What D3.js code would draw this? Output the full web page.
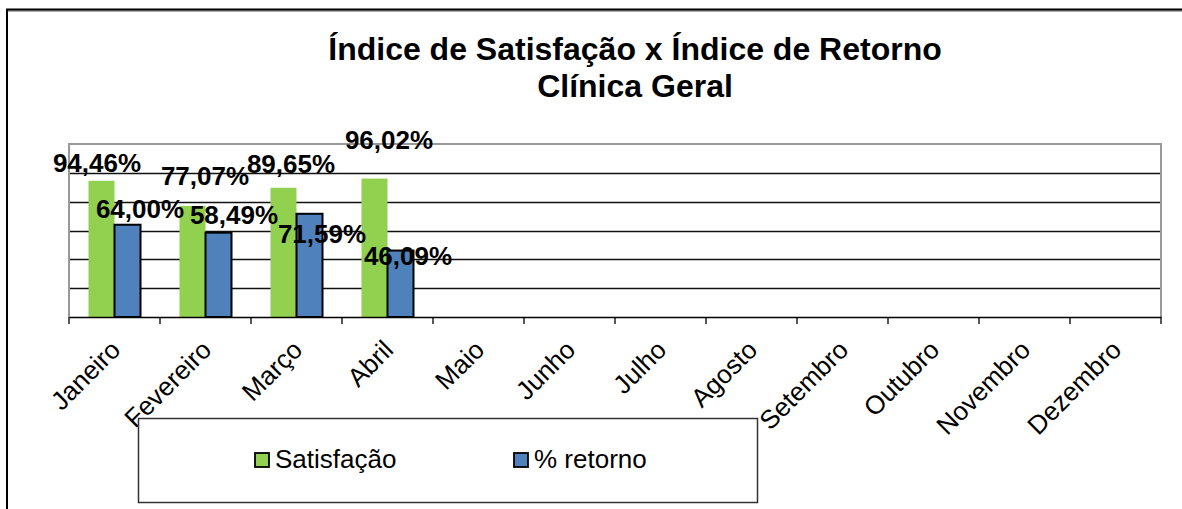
<!DOCTYPE html>
<html>
<head>
<meta charset="utf-8">
<script src="https://cdn.jsdelivr.net/npm/d3@7/dist/d3.min.js"></script>
<style>
  html, body { margin: 0; padding: 0; background: #fff; }
  svg { display: block; }
  text { font-family: "Liberation Sans", Arial, sans-serif; }
</style>
</head>
<body>
<svg id="chart" width="1182" height="509"></svg>
<script>
// ---- data ----
const months = ["Janeiro","Fevereiro","Março","Abril","Maio","Junho","Julho","Agosto","Setembro","Outubro","Novembro","Dezembro"];
const satisfacao = [94.46, 77.07, 89.65, 96.02, null, null, null, null, null, null, null, null];
const retorno = [64.00, 58.49, 71.59, 46.09, null, null, null, null, null, null, null, null];
const yTicks = [0, 20, 40, 60, 80, 100, 120];
const seriesNames = ["Satisfação", "% retorno"];
const titleLines = ["Índice de Satisfação x Índice de Retorno", "Clínica Geral"];

// label nudges (px) to mimic the original label placement
const satNudge = [[-4.5, -3], [12.5, -15], [7.5, -9], [14.5, -24]];
const retNudge = [[12.5, -1], [15.5, -3], [12.5, 35], [7.5, 20]];

const fmt = v => v.toFixed(2).replace(".", ",") + "%";

const svg = d3.select("#chart");
const W = 1182, H = 509;
const plot = { left: 69, right: 1161, top: 144, bottom: 317 };
const colors = ["#92D050", "#4F81BD"];

// outer frame
svg.append("line").attr("x1", 7).attr("x2", W).attr("y1", 11).attr("y2", 11).attr("stroke", "#aaa").attr("stroke-width", 2);
svg.append("line").attr("x1", 6).attr("x2", W).attr("y1", 9.5).attr("y2", 9.5).attr("stroke", "#000").attr("stroke-width", 2);
svg.append("line").attr("x1", 7).attr("x2", 7).attr("y1", 9).attr("y2", H).attr("stroke", "#000").attr("stroke-width", 2);

// title
svg.append("g").selectAll("text").data(titleLines).join("text")
  .attr("x", 635).attr("y", (d, i) => 60 + i * 37)
  .attr("text-anchor", "middle")
  .attr("font-size", 32).attr("font-weight", "bold").attr("fill", "#000")
  .text(d => d);

// scales
const x = d3.scaleBand().domain(months).range([plot.left, plot.right]).paddingInner(0).paddingOuter(0);
const barW = 26;
const y = d3.scaleLinear().domain([0, 120]).range([plot.bottom, plot.top]);

// gridlines
svg.append("g").selectAll("line").data(yTicks.filter(t => t > 0 && t < 120)).join("line")
  .attr("x1", plot.left).attr("x2", plot.right)
  .attr("y1", d => Math.round(y(d)) + 0.5).attr("y2", d => Math.round(y(d)) + 0.5)
  .attr("stroke", "#111").attr("stroke-width", 1.5);

// plot border (top, right, left)
svg.append("path")
  .attr("d", `M${plot.left},${plot.bottom} V${plot.top} H${plot.right} V${plot.bottom}`)
  .attr("fill", "none").attr("stroke", "#999").attr("stroke-width", 2);

// bars
const gBars = svg.append("g");
const series = [satisfacao, retorno];
series.forEach((vals, s) => {
  const data = months.map((m, i) => ({ m, v: vals[i], i })).filter(d => d.v != null);
  gBars.selectAll("rect.s" + s).data(data).join("rect")
    .attr("class", "s" + s)
    .attr("x", d => x(d.m) + x.bandwidth() / 2 - barW + s * barW)
    .attr("width", barW)
    .attr("y", d => y(d.v))
    .attr("height", d => y(0) - y(d.v))
    .attr("fill", colors[s])
    .attr("stroke", s === 1 ? "#000" : "none")
    .attr("stroke-width", s === 1 ? 2 : 0);
});

// x axis
const xAxis = d3.axisBottom(x).tickSize(0).tickFormat("");
const gx = svg.append("g").attr("transform", `translate(0,${plot.bottom})`).call(xAxis);
gx.select(".domain").attr("stroke", "#000").attr("stroke-width", 1.5);
// boundary ticks
const bounds = months.map(m => x(m)).concat([plot.right]);
svg.append("g").selectAll("line").data(bounds).join("line")
  .attr("x1", d => d).attr("x2", d => d)
  .attr("y1", plot.bottom).attr("y2", plot.bottom + 7)
  .attr("stroke", "#000").attr("stroke-width", 1.3);

// axis labels rotated
svg.append("g").selectAll("text").data(months).join("text")
  .attr("transform", d => `translate(${x(d) + x.bandwidth() / 2 + 1},${plot.bottom + 28}) rotate(-45)`)
  .attr("text-anchor", "end")
  .attr("dy", "0.35em")
  .attr("font-size", 26).attr("fill", "#000")
  .text(d => d);

// data labels
const gLab = svg.append("g");
series.forEach((vals, s) => {
  const nudge = s === 0 ? satNudge : retNudge;
  const data = months.map((m, i) => ({ m, v: vals[i], i })).filter(d => d.v != null);
  gLab.selectAll("text.l" + s).data(data).join("text")
    .attr("class", "l" + s)
    .attr("x", d => x(d.m) + x.bandwidth() / 2 - barW / 2 + s * barW + nudge[d.i][0])
    .attr("y", d => y(d.v) - 6 + nudge[d.i][1])
    .attr("text-anchor", "middle")
    .attr("font-size", 26).attr("font-weight", "bold").attr("fill", "#000")
    .text(d => fmt(d.v));
});

// legend
const lg = svg.append("g");
lg.append("rect").attr("x", 138.5).attr("y", 418.5).attr("width", 619).attr("height", 84)
  .attr("fill", "#fff").attr("stroke", "#333").attr("stroke-width", 1.5);
const legendX = [255, 514];
seriesNames.forEach((name, i) => {
  lg.append("rect").attr("x", legendX[i]).attr("y", 453).attr("width", 14).attr("height", 14)
    .attr("fill", colors[i]).attr("stroke", "#000").attr("stroke-width", 1.8);
  lg.append("text").attr("x", legendX[i] + 20).attr("y", 468)
    .attr("font-size", 26).attr("fill", "#000").text(name);
});
</script>
</body>
</html>
